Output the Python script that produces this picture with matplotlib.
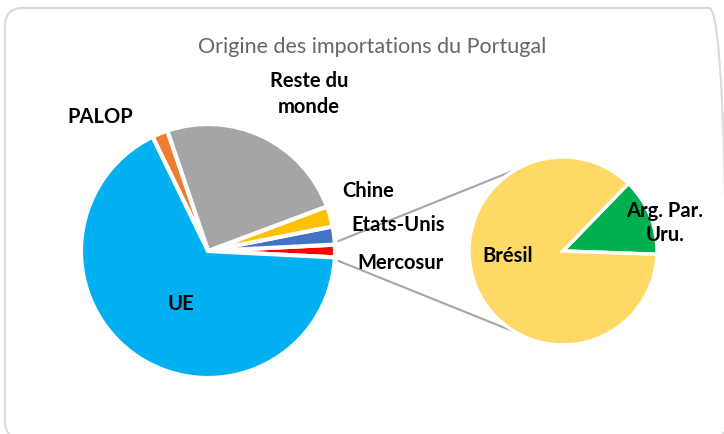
import numpy as np
import matplotlib
matplotlib.use("Agg")
import matplotlib.pyplot as plt
from matplotlib.patches import FancyBboxPatch

plt.rcParams['font.family'] = ['Lato', 'DejaVu Sans']

# ---- data ----
main_labels = ["Mercosur", "Etats-Unis", "Chine", "Reste du monde", "PALOP", "UE"]
main_values = [1.6, 2.3, 2.6, 24.5, 2.0, 67.0]
main_colors = ["#FF0000", "#4472C4", "#FFC000", "#A5A5A5", "#ED7D31", "#00B0F0"]

sub_labels = ["Arg. Par. Uru.", "Brésil"]
sub_values = [13.3, 86.7]
sub_colors = ["#00B050", "#FFD966"]

title = "Origine des importations du Portugal"

W, H = 724, 435
fig = plt.figure(figsize=(W / 100, H / 100), dpi=100)
ax = fig.add_axes([0, 0, 1, 1])
ax.set_xlim(0, W)
ax.set_ylim(0, H)
ax.set_aspect('equal')
ax.axis('off')

def py(y):
    return H - y

# frame
frame = FancyBboxPatch((5, py(440)), 722, 431, boxstyle="round,pad=0,rounding_size=18",
                       transform=ax.transData, fill=False, edgecolor="#D9D9D9", linewidth=1.5,
                       clip_on=False)
ax.add_patch(frame)

# main pie
mc = (208, py(252)); mr = 127
merc_angle = main_values[0] / sum(main_values) * 360
ax.pie(main_values, colors=main_colors, center=mc, radius=mr,
       startangle=-merc_angle / 2, counterclock=True,
       wedgeprops=dict(edgecolor="white", linewidth=3), frame=True)

# secondary pie
sc = (563, py(252)); sr = 94
ax.pie(sub_values, colors=sub_colors, center=sc, radius=sr,
       startangle=-2, counterclock=True, explode=[0.04, 0],
       wedgeprops=dict(edgecolor="white", linewidth=2.5), frame=True)

ax.set_xlim(0, W)
ax.set_ylim(0, H)
ax.axis('off')

# connector lines
a = np.deg2rad(merc_angle / 2 + 1.5)
for s in (1, -1):
    p1 = (mc[0] + (mr + 4) * np.cos(a), mc[1] + s * (mr + 4) * np.sin(a))
    b = np.deg2rad(120)
    p2 = (sc[0] + sr * np.cos(b), sc[1] + s * sr * np.sin(b))
    ax.plot([p1[0], p2[0]], [p1[1], p2[1]], color="#A6A6A6", lw=1.5, zorder=0)

# title
ax.text(372, py(47), title, ha='center', va='center', fontsize=15.5, color="#666666")

# labels
lab_kw = dict(ha='center', va='center', fontsize=14.5, fontweight='bold', color='black')
ax.text(100, py(117), "PALOP", **lab_kw)
ax.text(309, py(94), "Reste du\nmonde", linespacing=1.4, **lab_kw)
ax.text(368, py(191), "Chine", **lab_kw)
ax.text(398, py(225), "Etats-Unis", **lab_kw)
ax.text(401, py(263), "Mercosur", **lab_kw)
ax.text(181, py(304), "UE", **lab_kw)
ax.text(508, py(256), "Brésil", **lab_kw)
ax.text(665, py(223), "Arg. Par.\nUru.", linespacing=1.3, **lab_kw)

fig.savefig("out.png", dpi=100)
